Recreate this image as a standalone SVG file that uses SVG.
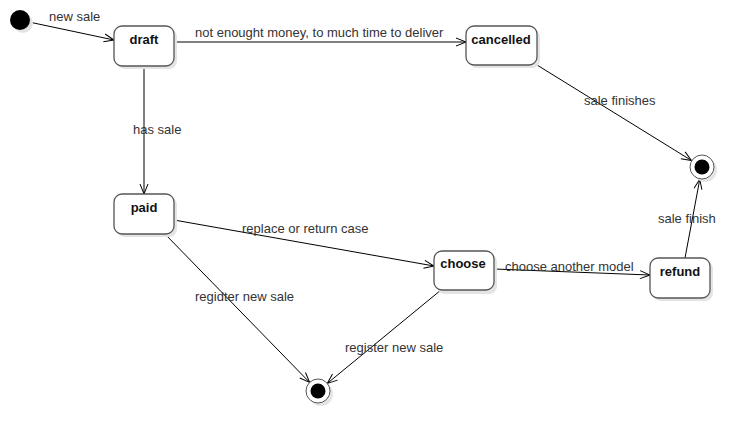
<svg xmlns="http://www.w3.org/2000/svg" width="755" height="444" viewBox="0 0 755 444">
<style>
.node rect.b{fill:#fff;stroke:#555;stroke-width:1.3}
.sh{fill:#e4e4e4}
.nl{font-family:"Liberation Sans",Arial,sans-serif;font-size:13px;font-weight:bold;fill:#111;text-anchor:middle}
.el{font-family:"Liberation Sans",Arial,sans-serif;font-size:13px;fill:#333}
.edge{stroke:#000;stroke-width:1;fill:none;marker-end:url(#arr)}
</style>
<defs>
<marker id="arr" viewBox="0 0 12 10" refX="11" refY="5" markerWidth="12" markerHeight="10" markerUnits="userSpaceOnUse" orient="auto">
<path d="M1,1 L11,5 L1,9" fill="none" stroke="#000" stroke-width="1"/>
</marker>
</defs>
<rect width="755" height="444" fill="#fff"/>
<g id="connectors">
<line class="edge" x1="29" y1="22" x2="114" y2="40"/>
<line class="edge" x1="174" y1="42" x2="466" y2="42"/>
<line class="edge" x1="144" y1="66" x2="144" y2="194"/>
<line class="edge" x1="537" y1="65" x2="691.5" y2="160.5"/>
<line class="edge" x1="174" y1="220" x2="434" y2="266"/>
<line class="edge" x1="164" y1="233" x2="309.6" y2="382.4"/>
<line class="edge" x1="441" y1="290" x2="327.3" y2="383.4"/>
<line class="edge" x1="494" y1="269" x2="650" y2="275"/>
<line class="edge" x1="685" y1="258" x2="699.8" y2="179.2"/>
<text class="el" x="49" y="21">new sale</text>
<text class="el" x="195" y="37">not enought money, to much time to deliver</text>
<text class="el" x="133" y="134">has sale</text>
<text class="el" x="584" y="105">sale finishes</text>
<text class="el" x="242" y="233">replace or return case</text>
<text class="el" x="195" y="301">regidter new sale</text>
<text class="el" x="345" y="352">register new sale</text>
<text class="el" x="505" y="271">choose another model</text>
<text class="el" x="658" y="223">sale finish</text>
</g>
<g id="initial">
<circle cx="23" cy="23" r="10" class="sh"/>
<circle cx="20" cy="20" r="10" fill="#000"/>
</g>
<g id="draft" class="node">
<rect class="sh" x="117" y="29" width="60" height="40" rx="8"/>
<rect class="b" x="114" y="26" width="60" height="40" rx="8"/>
<text class="nl" x="144" y="44">draft</text>
</g>
<g id="cancelled" class="node">
<rect class="sh" x="469" y="29" width="71" height="39" rx="8"/>
<rect class="b" x="466" y="26" width="71" height="39" rx="8"/>
<text class="nl" x="501" y="44">cancelled</text>
</g>
<g id="paid" class="node">
<rect class="sh" x="117" y="197" width="60" height="40" rx="8"/>
<rect class="b" x="114" y="194" width="60" height="40" rx="8"/>
<text class="nl" x="144" y="212">paid</text>
</g>
<g id="choose" class="node">
<rect class="sh" x="437" y="254" width="60" height="40" rx="8"/>
<rect class="b" x="434" y="251" width="60" height="39" rx="8"/>
<text class="nl" x="463" y="268">choose</text>
</g>
<g id="refund" class="node">
<rect class="sh" x="653" y="261" width="60" height="40" rx="8"/>
<rect class="b" x="650" y="258" width="60" height="40" rx="8"/>
<text class="nl" x="680" y="276">refund</text>
</g>
<g id="final-right">
<circle cx="705" cy="170" r="12" class="sh"/>
<circle cx="702" cy="167" r="12" fill="#fff" stroke="#555" stroke-width="1"/>
<circle cx="702" cy="167" r="7.5" fill="#000"/>
</g>
<g id="final-bottom">
<circle cx="321" cy="394" r="12" class="sh"/>
<circle cx="318" cy="391" r="12" fill="#fff" stroke="#555" stroke-width="1"/>
<circle cx="318" cy="391" r="7.5" fill="#000"/>
</g>
</svg>
